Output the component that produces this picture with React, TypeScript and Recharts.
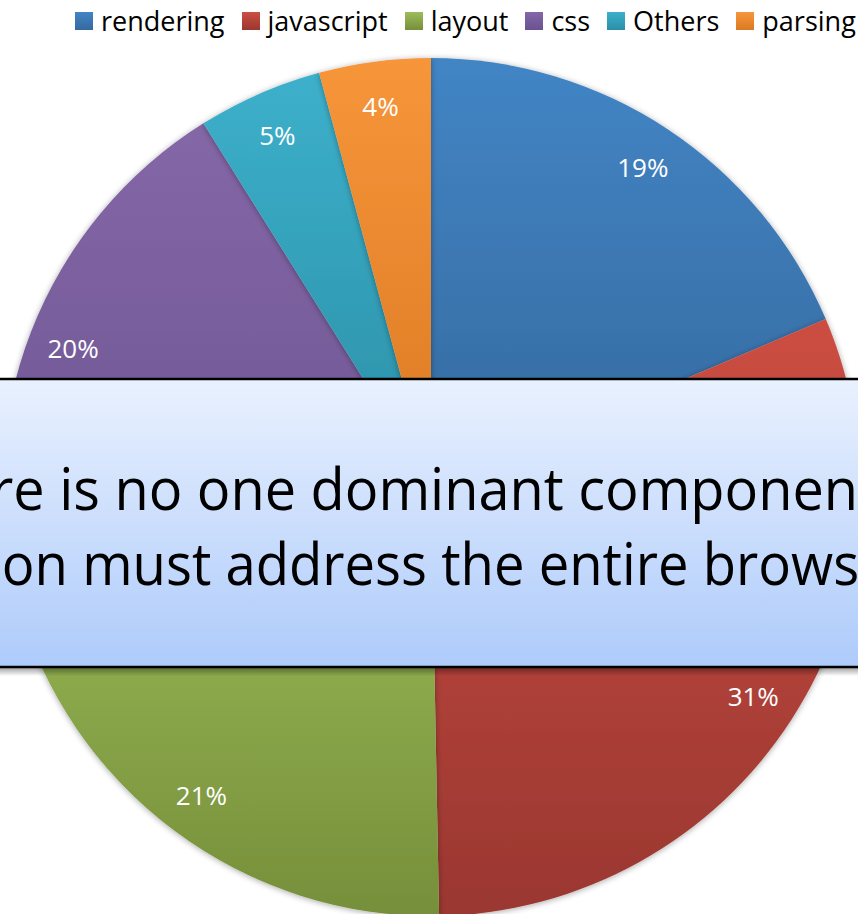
import React from 'react'
import { PieChart, Pie, Cell, Legend } from 'recharts'

const categories = ['rendering', 'javascript', 'layout', 'css', 'Others', 'parsing']
const shares = [18.6, 31.1, 21.0, 20.4, 4.7, 4.2]
const topColors = ['#4285c5', '#cc4e42', '#9dbd5a', '#8467a6', '#3db0cb', '#f7953a']
const bottomColors = ['#35699e', '#9a3731', '#768f3a', '#6a5290', '#2a8fa6', '#dc7a24']
const bannerLines = ['There is no one dominant component', 'Optimization must address the entire browser']

const data = categories.map((name, i) => ({ name, value: shares[i] }))

const RADIAN = Math.PI / 180
const FONT = '"Open Sans", "Noto Sans", sans-serif'

function renderLabel(props: any) {
  const { cx, cy, midAngle, percent } = props
  const r = 384
  const x = cx + r * Math.cos(-midAngle * RADIAN)
  const y = cy + r * Math.sin(-midAngle * RADIAN)
  return (
    <text x={x} y={y} fill="#fff" fontSize={26} fontFamily={FONT} textAnchor="middle" dominantBaseline="central">
      {`${Math.round(percent * 100)}%`}
    </text>
  )
}

function LegendContent() {
  return (
    <div style={{ display: 'flex', alignItems: 'center', fontFamily: FONT, fontSize: 27, color: '#000', whiteSpace: 'nowrap' }}>
      {categories.map((c, i) => (
        <span key={c} style={{ display: 'flex', alignItems: 'center', marginRight: 17 }}>
          <span
            style={{
              width: 18,
              height: 18,
              marginRight: 8,
              background: `linear-gradient(${topColors[i]}, ${bottomColors[i]})`,
              display: 'inline-block',
            }}
          />
          {c}
        </span>
      ))}
    </div>
  )
}

export default function App() {
  return (
    <div style={{ position: 'absolute', left: 0, top: 0, width: 858, height: 914, overflow: 'hidden', background: '#fff' }}>
      <svg width={0} height={0} style={{ position: 'absolute' }}>
        <defs>
          {categories.map((c, i) => (
            <linearGradient key={c} id={`g${i}`} x1="0" y1="0" x2="0" y2="1">
              <stop offset="0%" stopColor={topColors[i]} />
              <stop offset="100%" stopColor={bottomColors[i]} />
            </linearGradient>
          ))}
          <filter id="pieShadow" x="-10%" y="-10%" width="120%" height="120%">
            <feGaussianBlur in="SourceAlpha" stdDeviation="3" />
            <feOffset dx="0" dy="1" result="b" />
            <feComponentTransfer>
              <feFuncA type="linear" slope="0.35" />
            </feComponentTransfer>
            <feMerge>
              <feMergeNode />
              <feMergeNode in="SourceGraphic" />
            </feMerge>
          </filter>
        </defs>
      </svg>
      <PieChart width={858} height={914} margin={{ top: 0, right: 0, bottom: 0, left: 0 }}>
        <Pie
          data={data}
          dataKey="value"
          nameKey="name"
          cx={431}
          cy={487}
          outerRadius={429}
          startAngle={90}
          endAngle={-270}
          stroke="none"
          label={renderLabel}
          labelLine={false}
          isAnimationActive={false}
          style={{ filter: 'url(#pieShadow)' }}
        >
          {data.map((_, i) => (
            <Cell key={i} fill={`url(#g${i})`} />
          ))}
        </Pie>
        <Legend
          content={<LegendContent />}
          verticalAlign="middle"
          align="center"
          wrapperStyle={{ position: 'absolute', left: 75, top: 2, width: 820 }}
        />
      </PieChart>
      <svg width={858} height={914} style={{ position: 'absolute', left: 0, top: 0, pointerEvents: 'none' }}>
        <defs>
          <linearGradient id="banner" x1="0" y1="0" x2="0" y2="1">
            <stop offset="0%" stopColor="#e9f1fe" />
            <stop offset="100%" stopColor="#aecbfb" />
          </linearGradient>
          <linearGradient id="bannerShadow" x1="0" y1="0" x2="0" y2="1">
            <stop offset="0%" stopColor="rgba(0,0,0,0.35)" />
            <stop offset="100%" stopColor="rgba(0,0,0,0)" />
          </linearGradient>
        </defs>
        <rect x={-10} y={668} width={880} height={8} fill="url(#bannerShadow)" />
        <rect x={-10} y={379} width={880} height={288} fill="url(#banner)" stroke="#000" strokeWidth={2.5} />
        <text x={-106} y={510} fontFamily={FONT} fontSize={58} fill="#000" textLength={984} lengthAdjust="spacingAndGlyphs">
          {bannerLines[0]}
        </text>
        <text x={-260} y={585} fontFamily={FONT} fontSize={58} fill="#000" textLength={1172} lengthAdjust="spacingAndGlyphs">
          {bannerLines[1]}
        </text>
      </svg>
    </div>
  )
}
